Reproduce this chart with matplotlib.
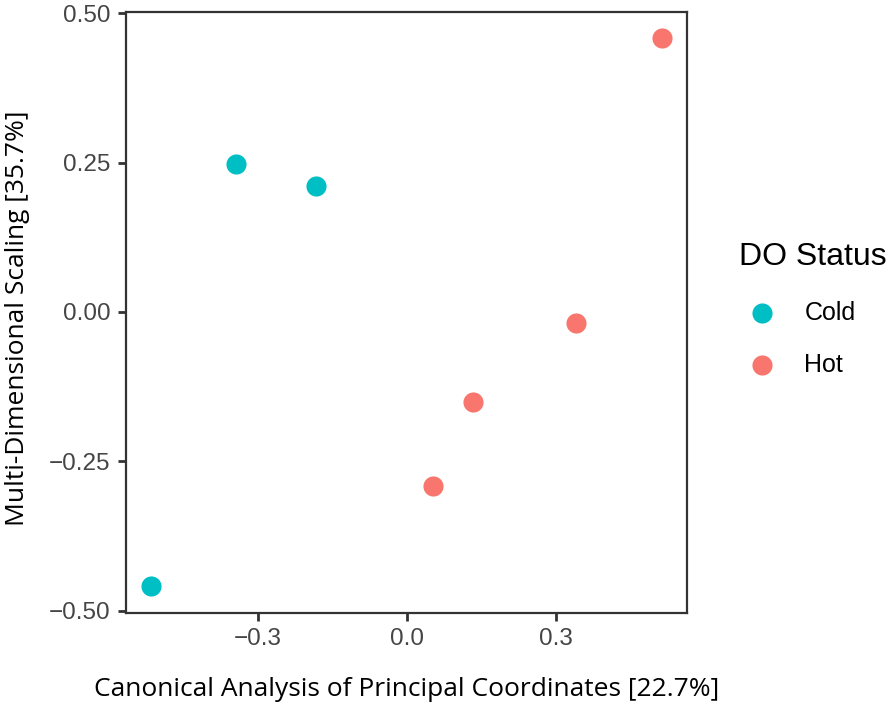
import matplotlib
matplotlib.use('Agg')
import matplotlib.pyplot as plt

# --- Data ---
groups = ['Cold', 'Hot']
colors = {'Cold': '#00BFC4', 'Hot': '#F8766D'}
cold_x = [-0.345, -0.184, -0.515]
cold_y = [0.248, 0.210, -0.459]
hot_x = [0.513, 0.340, 0.133, 0.052]
hot_y = [0.458, -0.018, -0.150, -0.292]
x_ticks = [-0.3, 0.0, 0.3]
y_ticks = [-0.50, -0.25, 0.00, 0.25, 0.50]

W, H = 893, 712
fig = plt.figure(figsize=(W / 100, H / 100), dpi=100)
ax = fig.add_axes([126 / W, 1 - 613 / H, (687 - 126) / W, (613 - 12) / H])

ax.scatter(cold_x, cold_y, s=210, color=colors['Cold'], linewidths=0, label='Cold', zorder=3)
ax.scatter(hot_x, hot_y, s=210, color=colors['Hot'], linewidths=0, label='Hot', zorder=3)

# ggplot-like 5% expansion
ax.set_xlim(-0.566, 0.564)
ax.set_ylim(-0.504, 0.502)
ax.set_xticks(x_ticks)
ax.set_xticklabels(['\u22120.3', '0.0', '0.3'])
ax.set_yticks(y_ticks)
ax.set_yticklabels(['\u22120.50', '\u22120.25', '0.00', '0.25', '0.50'])

for sp in ax.spines.values():
    sp.set_linewidth(1.6)
    sp.set_color('#333333')
ax.tick_params(length=6, width=2.0, color='#333333', pad=5,
               labelsize=17.5, labelcolor='#454545')
for lab in ax.get_xticklabels() + ax.get_yticklabels():
    lab.set_family('Liberation Sans')

ax.set_xlabel('Canonical Analysis of Principal Coordinates [22.7%]',
              family='Open Sans', fontsize=19, va='center', color='black')
ax.xaxis.set_label_coords(0.5, (613 - 690) / 601)
ax.set_ylabel('Multi-Dimensional Scaling [35.7%]',
              family='Open Sans', fontsize=19, va='center', color='black')
ax.yaxis.set_label_coords((18 - 126) / 561, (613 - 318) / 601)

leg = fig.legend(loc='upper left', bbox_to_anchor=(739 / W, 1 - 242 / H),
                 frameon=False, borderpad=0, borderaxespad=0,
                 title='DO Status', alignment='left',
                 prop={'family': 'Liberation Sans', 'size': 18},
                 title_fontproperties={'family': 'Liberation Sans', 'size': 23},
                 handlelength=1.87, handletextpad=0.75, labelspacing=1.14)

fig.savefig('out.png', dpi=100)
